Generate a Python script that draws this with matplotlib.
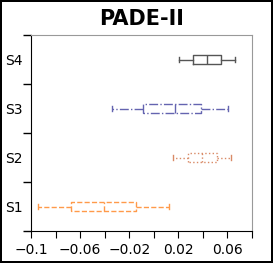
import matplotlib
matplotlib.use("Agg")
import matplotlib.pyplot as plt
from matplotlib.ticker import FixedLocator, NullFormatter, FixedFormatter

categories = ["S1", "S2", "S3", "S4"]
whislo = [-0.094, 0.0159, -0.0343, 0.0205]
q1 = [-0.0677, 0.0276, -0.0085, 0.0317]
med = [-0.0406, 0.0395, 0.0173, 0.0433]
q3 = [-0.0145, 0.0512, 0.0387, 0.0548]
whishi = [0.0127, 0.0626, 0.0607, 0.0664]
colors = ["#ff9a4a", "#d98a66", "#6464b0", "#555555"]
styles = ["--", ":", "-.", "-"]
xticks = [-0.1, -0.08, -0.06, -0.04, -0.02, 0.0, 0.02, 0.04, 0.06, 0.08]
xticklabels = ["\u22120.1", "", "\u22120.06", "", "\u22120.02", "", "0.02", "", "0.06", ""]

fig = plt.figure(figsize=(2.73, 2.63), dpi=100)
fig.patch.set_edgecolor("black")
fig.patch.set_linewidth(1.5)
ax = fig.add_axes([31/273, 1-231/263, 221/273, 196/263])

for i, cat in enumerate(categories):
    stats = [dict(label=cat, whislo=whislo[i], q1=q1[i], med=med[i], q3=q3[i], whishi=whishi[i], fliers=[])]
    c = colors[i]
    ls = styles[i]
    lp = dict(color=c, linestyle=ls, linewidth=1)
    ax.bxp(stats, positions=[i + 1], widths=0.2, vert=False, showfliers=False,
           boxprops=lp, medianprops=lp, whiskerprops=lp,
           capprops=dict(color=c, linestyle="-", linewidth=1))

ax.set_xlim(-0.1, 0.08)
ax.set_ylim(0.5, 4.5)
ax.xaxis.set_major_locator(FixedLocator(xticks))
ax.xaxis.set_major_formatter(FixedFormatter(xticklabels))
ax.yaxis.set_major_locator(FixedLocator([0.5, 1.5, 2.5, 3.5, 4.5]))
ax.yaxis.set_major_formatter(NullFormatter())
ax.yaxis.set_minor_locator(FixedLocator([1, 2, 3, 4]))
ax.yaxis.set_minor_formatter(FixedFormatter(categories))
ax.tick_params(axis="y", which="minor", length=0, labelsize=10, pad=6)
ax.tick_params(axis="y", which="major", length=6, width=1)
ax.tick_params(axis="x", length=5, labelsize=10)
ax.spines["top"].set_color("#999999")
ax.spines["right"].set_color("#999999")
ax.set_title("PADE-II", fontsize=15, fontweight="bold", pad=7)

fig.savefig("out.png", dpi=100, edgecolor=fig.get_edgecolor())
